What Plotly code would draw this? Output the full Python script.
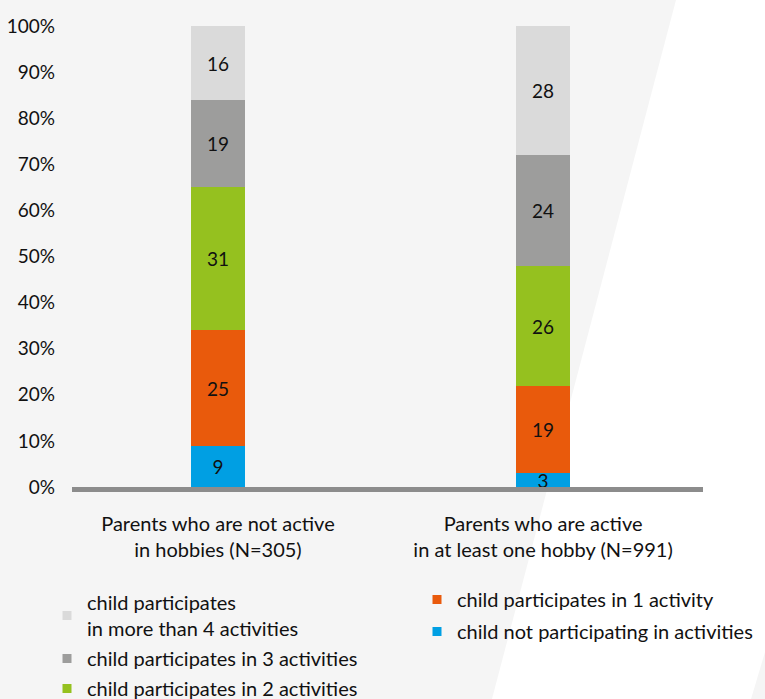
import plotly.graph_objects as go

# Share of children by number of hobby activities, split by parents' own hobby activity
groups = ["Parents who are not active<br>in hobbies (N=305)",
          "Parents who are active<br>in at least one hobby (N=991)"]

series_names = ["child not participating in activities",
                "child participates in 1 activity",
                "child participates in 2 activities",
                "child participates in 3 activities",
                "child participates<br>in more than 4 activities"]

none_vals = [9, 3]
one_vals = [25, 19]
two_vals = [31, 26]
three_vals = [19, 24]
more_vals = [16, 28]

y_ticks = [0, 10, 20, 30, 40, 50, 60, 70, 80, 90, 100]

colors = ["#009fe3", "#e95a0c", "#95c11f", "#9d9d9c", "#dadada"]
values = [none_vals, one_vals, two_vals, three_vals, more_vals]
legend_ids = ["legend2", "legend2", "legend", "legend", "legend"]

FONT = "Lato"
BG = "#f5f5f5"
INK = "#111111"

# plot area in pixels: left 72, right 703, top 26, bottom 487
W, H = 765, 699
L, R, T, B = 72, 703, 26, 487


def px_x(p):
    return (p - L) / (R - L)


def px_y(p):
    return (B - p) / (B - T)


fig = go.Figure()

for name, vals, col in zip(series_names, values, colors):
    fig.add_trace(go.Bar(
        x=[0, 1], y=vals, name=name,
        marker=dict(color=col, line=dict(width=0)),
        width=0.166,
        text=[str(v) for v in vals],
        textposition="inside",
        insidetextanchor="middle",
        textangle=0,
        constraintext="none",
        textfont=dict(family=FONT, size=19, color=INK),
        cliponaxis=False,
        showlegend=False,
        hoverinfo="skip",
    ))

# legend entries with small square swatches, top entry first
for name, col, lg in reversed(list(zip(series_names, colors, legend_ids))):
    fig.add_trace(go.Scatter(
        x=[None], y=[None], mode="markers", name=name,
        marker=dict(symbol="square", size=9, color=col),
        legend=lg, legendgroup=name, showlegend=True,
    ))

# white diagonal band in the background
band = [(676, 0), (W, 0), (W, 652), (751, H), (492, H)]
path = "M " + " L ".join(f"{px_x(a):.4f},{px_y(b):.4f}" for a, b in band) + " Z"
fig.add_shape(type="path", path=path, xref="paper", yref="paper",
              fillcolor="#ffffff", line=dict(width=0), layer="below")

fig.update_layout(
    width=W, height=H,
    margin=dict(l=L, r=W - R, t=T, b=H - B, autoexpand=False),
    paper_bgcolor=BG,
    plot_bgcolor="rgba(0,0,0,0)",
    barmode="stack",
    bargap=0,
    font=dict(family=FONT, size=20, color=INK),
    xaxis=dict(
        tickmode="array", tickvals=[0, 1], ticktext=groups,
        range=[-0.449, 1.492],
        showgrid=False, zeroline=False,
        showline=True, linecolor="#8c8c8c", linewidth=5,
        ticks="", ticklabelstandoff=15,
        tickfont=dict(family=FONT, size=20, color=INK),
    ),
    yaxis=dict(
        range=[0, 100], tickmode="array", tickvals=y_ticks,
        ticktext=[f"{v}%" for v in y_ticks],
        showgrid=False, zeroline=False, showline=False,
        ticks="", ticklabelstandoff=16,
        tickfont=dict(family=FONT, size=19, color=INK),
    ),
    legend=dict(
        x=px_x(47), y=px_y(583), xanchor="left", yanchor="top",
        bgcolor="rgba(0,0,0,0)", traceorder="grouped",
        tracegroupgap=1,
        font=dict(family=FONT, size=20, color=INK),
    ),
    legend2=dict(
        x=px_x(417), y=px_y(580), xanchor="left", yanchor="top",
        bgcolor="rgba(0,0,0,0)", traceorder="grouped",
        tracegroupgap=3,
        font=dict(family=FONT, size=20, color=INK),
    ),
)

fig.write_html("out.html")
